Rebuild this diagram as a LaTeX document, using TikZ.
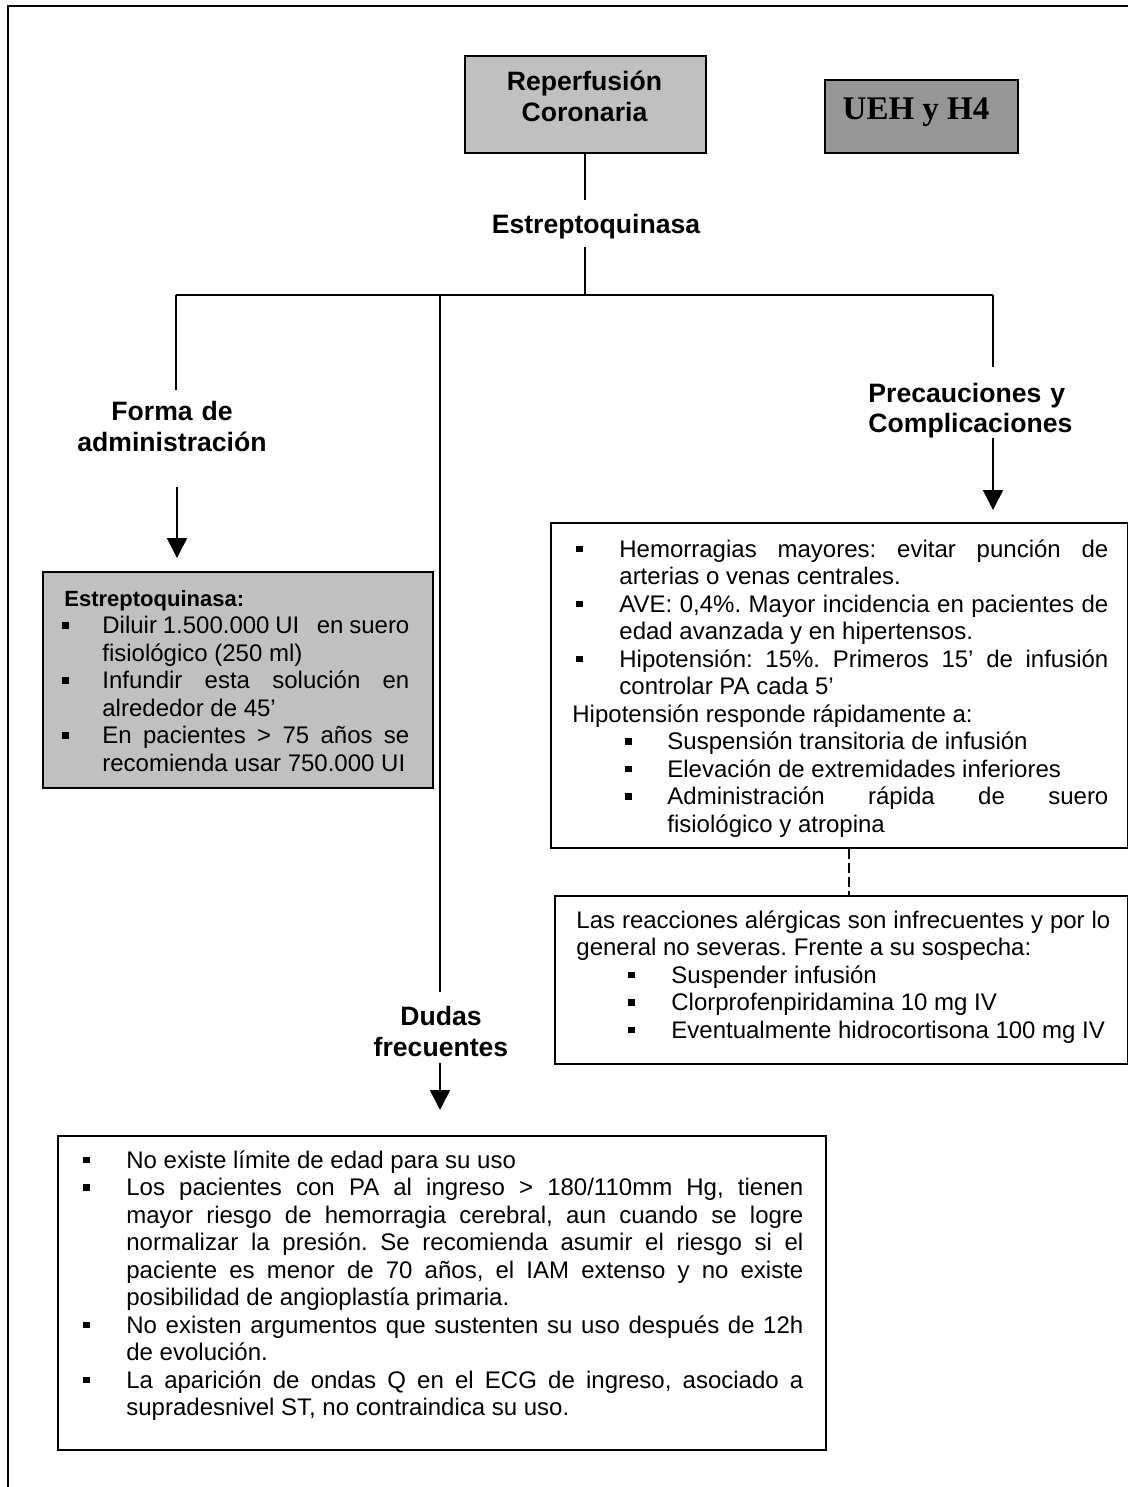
\documentclass[tikz,border=0pt]{standalone}
\usepackage{fontspec}
\setmainfont{Liberation Sans}
\newfontfamily\serifbold{Liberation Serif}
\usetikzlibrary{arrows.meta}
\definecolor{panelgray}{HTML}{C0C0C0}
\definecolor{tabgray}{HTML}{969696}
% square list bullet and a hanging list item: #1 = text indent, #2 = bullet indent
\newcommand\sq{\rule[2.4pt]{3.2pt}{3.2pt}}
\newcommand\itm[2]{\hangindent=#1\hangafter=1\makebox[#1][l]{\hspace*{#2}\sq}\ignorespaces}
\hyphenpenalty=10000 \exhyphenpenalty=10000 \tolerance=10000 \hbadness=10000
\frenchspacing
\begin{document}
\begin{tikzpicture}[x=0.5pt,y=-0.5pt,
  frame/.style={draw=black,line width=1pt,inner sep=0pt,anchor=north west},
  body/.style={inner sep=0pt,anchor=base west,align=justify,font=\fontsize{12}{13.75}\selectfont\frenchspacing},
  head/.style={inner sep=0pt,anchor=base,align=center,font=\bfseries\fontsize{13.3}{15.2}\selectfont},
  link/.style={line width=0.8pt},
  arrow/.style={link,-{Triangle[length=10pt,width=10pt]}},
  dashlink/.style={link,dash pattern=on 5pt off 2pt}]
\useasboundingbox (0,0) rectangle (1128,1487);
\clip (0,0) rectangle (1128,1487);

% page frame
\draw[line width=1pt] (1140,6) -- (7.5,6) -- (7.5,1500);

% title boxes
\node[frame,fill=panelgray,minimum width=120.5pt,minimum height=48.5pt] (rep) at (464,55) {};
\node[head,text width=120pt] (reptxt) at (584.5,91) {Reperfusión\\Coronaria};
\node[frame,fill=tabgray,minimum width=96.5pt,minimum height=36.5pt] (ueh) at (824,79) {};
\node[inner sep=0pt,anchor=base,font=\serifbold\bfseries\fontsize{16.5}{18}\selectfont] (uehtxt) at (916,120) {UEH y H4};

% drug label and the tree bar
\node[head] (estr) at (596,234) {Estreptoquinasa};
\coordinate (t1) at (585,200);
\coordinate (t2) at (585,247);
\coordinate (hub) at (585,295);
\coordinate (hubL) at (176,295);
\coordinate (hubM) at (440,295);
\coordinate (hubR) at (993,295);
\coordinate (endL) at (176,390);
\coordinate (endM) at (440,992);
\coordinate (endR) at (993,367);
\draw[link] (rep.south -| t1) -- (t1);
\draw[link] (t2) -- (hub);
\draw[link] (hubL) -- (hubR);
\draw[link] (hubL) -- (endL);
\draw[link] (hubM) -- (endM);
\draw[link] (hubR) -- (endR);

% branch labels
\node[head,text width=110pt,font=\bfseries\fontsize{13.3}{15.5}\selectfont] (forma) at (172,420) {Forma de\\administración};
\node[head,text width=110pt,align=left,anchor=base west] (prec) at (868,402) {Precauciones y\\Complicaciones};
\node[head,text width=80pt,font=\bfseries\fontsize{13.3}{15.8}\selectfont] (dudas) at (441,1025) {Dudas\\frecuentes};

% arrows
\coordinate (aL1) at (177,487); \coordinate (aL2) at (177,558);
\coordinate (aR1) at (993,438); \coordinate (aR2) at (993,510);
\coordinate (aM1) at (440,1063); \coordinate (aM2) at (440,1110);
\draw[arrow] (aL1) -- (aL2);
\draw[arrow] (aR1) -- (aR2);
\draw[arrow] (aM1) -- (aM2);

% administration box
\node[frame,fill=panelgray,minimum width=195pt,minimum height=108pt] (admbox) at (42,571) {};
\node[body,text width=175.5pt] (admtxt) at (58,606) {\hspace*{3pt}{\bfseries\fontsize{11}{13.75}\selectfont Estreptoquinasa:}\par
\itm{22pt}{2pt}Diluir 1.500.000 UI\ \ \ en suero\linebreak fisiológico (250 ml)\par
\itm{22pt}{2pt}Infundir esta solución en\linebreak alrededor de 45’\par
\itm{22pt}{2pt}En pacientes > 75 años se\linebreak recomienda usar 750.000 UI\par};

% precautions box
\node[frame,minimum width=288.5pt,minimum height=162.5pt] (precbox) at (550,522) {};
\node[body,text width=268pt] (prectxt) at (572,557) {\itm{23.5pt}{2pt}Hemorragias mayores: evitar punción de\linebreak arterias o venas centrales.\par
\itm{23.5pt}{2pt}AVE: 0,4\%. Mayor incidencia en pacientes de\linebreak edad avanzada y en hipertensos.\par
\itm{23.5pt}{2pt}Hipotensión: 15\%. Primeros 15’ de infusión\linebreak controlar PA cada 5’\par
Hipotensión responde rápidamente a:\par
\itm{47.5pt}{26.5pt}Suspensión transitoria de infusión\par
\itm{47.5pt}{26.5pt}Elevación de extremidades inferiores\par
\itm{47.5pt}{26.5pt}Administración rápida de suero\linebreak fisiológico y atropina\par};

% allergic reactions box
\node[frame,minimum width=286.5pt,minimum height=84pt] (reacbox) at (554,895) {};
\node[body,text width=267pt] (reactxt) at (576,928) {Las reacciones alérgicas son infrecuentes y por lo\linebreak general no severas. Frente a su sospecha:\par
\itm{47.5pt}{26pt}Suspender infusión\par
\itm{47.5pt}{26pt}Clorprofenpiridamina 10 mg IV\par
\itm{47.5pt}{26pt}Eventualmente hidrocortisona 100 mg IV\par};
\coordinate (dx) at (849,0);
\draw[dashlink] (precbox.south -| dx) -- (reacbox.north -| dx);

% frequent questions box
\node[frame,minimum width=384pt,minimum height=157pt] (dudbox) at (57,1135) {};
\node[body,text width=362pt] (dudtxt) at (79,1168) {\itm{23.5pt}{2pt}No existe límite de edad para su uso\par
\itm{23.5pt}{2pt}Los pacientes con PA al ingreso > 180/110mm Hg, tienen\linebreak mayor riesgo de hemorragia cerebral, aun cuando se logre\linebreak normalizar la presión. Se recomienda asumir el riesgo si el\linebreak paciente es menor de 70 años, el IAM extenso y no existe\linebreak posibilidad de angioplastía primaria.\par
\itm{23.5pt}{2pt}No existen argumentos que sustenten su uso después de 12h\linebreak de evolución.\par
\itm{23.5pt}{2pt}La aparición de ondas Q en el ECG de ingreso, asociado a\linebreak supradesnivel ST, no contraindica su uso.\par};
\end{tikzpicture}
\end{document}
